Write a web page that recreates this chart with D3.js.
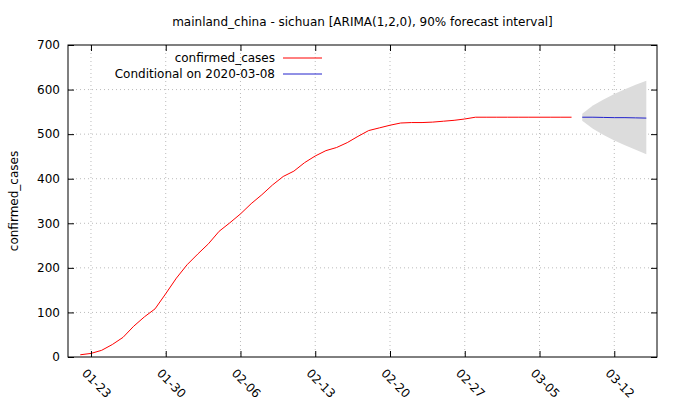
<!DOCTYPE html>
<html><head><meta charset="utf-8">
<script src="https://cdn.jsdelivr.net/npm/d3@7"></script>
<style>body{margin:0;background:#fff}text{font-family:"DejaVu Sans",sans-serif;font-size:12px}</style>
</head><body><div id="chart"></div>
<script>
const startDate = "2020-01-22";
const confirmed = [5,8,15,28,44,69,90,108,142,177,207,231,254,282,301,321,344,364,386,405,417,436,451,463,470,481,495,508,514,520,525,526,526,527,529,531,534,538,538,538,538,538,538,538,538,538,538];
const fcStart = "2020-03-09";
const fcMean = [538,538,537.5,537,537,536.5,536];
const fcLower = [530,512,498,486,475,465,455];
const fcUpper = [546,564,578,590,601,611,620];
const yTicks = [0,100,200,300,400,500,600,700];
const xTicks = ["2020-01-23","2020-01-30","2020-02-06","2020-02-13","2020-02-20","2020-02-27","2020-03-05","2020-03-12"];

const W=680,H=400,m={l:68,r:23,t:45,b:43};
const parse=d3.timeParse("%Y-%m-%d"),day=864e5;
const t0=parse(startDate).getTime(),f0=parse(fcStart).getTime();
const data=confirmed.map((v,i)=>({d:new Date(t0+i*day),v}));
const fc=fcMean.map((v,i)=>({d:new Date(f0+i*day),v,lo:fcLower[i],hi:fcUpper[i]}));

const svg=d3.select("#chart").append("svg").attr("width",W).attr("height",H);
const x=d3.scaleTime().domain([new Date(parse("2020-01-23").getTime()-2.15*day),new Date(parse("2020-03-12").getTime()+4*day)]).range([m.l,W-m.r]);
const y=d3.scaleLinear().domain([0,700]).range([H-m.b,m.t]);

// grid
svg.append("g").selectAll("line").data(yTicks.slice(1,-1)).join("line")
  .attr("x1",m.l).attr("x2",W-m.r).attr("y1",d=>y(d)).attr("y2",d=>y(d))
  .attr("stroke","#bbb").attr("stroke-dasharray","1,3");
svg.append("g").selectAll("line").data(xTicks).join("line")
  .attr("x1",d=>x(parse(d))).attr("x2",d=>x(parse(d))).attr("y1",m.t).attr("y2",H-m.b)
  .attr("stroke","#bbb").attr("stroke-dasharray","1,3");

// forecast band
svg.append("path").datum(fc).attr("fill","#dcdcdc")
  .attr("d",d3.area().x(d=>x(d.d)).y0(d=>y(d.lo)).y1(d=>y(d.hi)));
svg.append("path").datum(data).attr("fill","none").attr("stroke","red")
  .attr("d",d3.line().x(d=>x(d.d)).y(d=>y(d.v)));
svg.append("path").datum(fc).attr("fill","none").attr("stroke","#2222cc")
  .attr("d",d3.line().x(d=>x(d.d)).y(d=>y(d.v)));

// frame
svg.append("rect").attr("x",m.l).attr("y",m.t).attr("width",W-m.l-m.r).attr("height",H-m.t-m.b)
  .attr("fill","none").attr("stroke","#000");

// axes
const ya=svg.append("g").attr("transform",`translate(${m.l},0)`).call(d3.axisLeft(y).tickValues(yTicks).tickSizeInner(-6).tickSizeOuter(0).tickPadding(8));
const yr=svg.append("g").attr("transform",`translate(${W-m.r},0)`).call(d3.axisRight(y).tickValues(yTicks).tickSizeInner(-6).tickSizeOuter(0).tickFormat(""));
const xa=svg.append("g").attr("transform",`translate(0,${H-m.b})`).call(d3.axisBottom(x).tickValues(xTicks.map(parse)).tickFormat(d3.timeFormat("%m-%d")).tickSizeInner(-6).tickSizeOuter(0));
const xt=svg.append("g").attr("transform",`translate(0,${m.t})`).call(d3.axisTop(x).tickValues(xTicks.map(parse)).tickFormat("").tickSizeInner(-6).tickSizeOuter(0));
[ya,yr,xa,xt].forEach(g=>{g.select(".domain").remove();g.selectAll("text").attr("fill","#000").style("font-size","12px");});
xa.selectAll("text").attr("text-anchor","start").attr("transform","translate(-5,12) rotate(45)").attr("dy","0.35em");

svg.append("text").attr("x",m.l+(W-m.l-m.r)/2).attr("y",26).attr("text-anchor","middle").text("mainland_china - sichuan [ARIMA(1,2,0), 90% forecast interval]");
svg.append("text").attr("transform",`translate(18,${(m.t+H-m.b)/2}) rotate(-90)`).attr("text-anchor","middle").text("confirmed_cases");

// legend
const leg=[["confirmed_cases","red"],["Conditional on 2020-03-08","#2222cc"]];
leg.forEach((l,i)=>{
  const yy=58+i*16;
  svg.append("text").attr("x",275).attr("y",yy+4).attr("text-anchor","end").text(l[0]);
  svg.append("line").attr("x1",283).attr("x2",322).attr("y1",yy).attr("y2",yy).attr("stroke",l[1]);
});
</script></body></html>
